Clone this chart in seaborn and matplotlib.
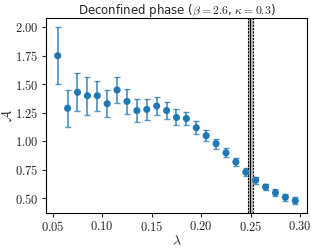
import numpy as np
import pandas as pd
import matplotlib
matplotlib.use("Agg")
import matplotlib.pyplot as plt
import seaborn as sns

# coupling values and measured observable
lam = [0.055, 0.065, 0.075, 0.085, 0.095, 0.105, 0.115, 0.125, 0.135, 0.145,
       0.155, 0.165, 0.175, 0.185, 0.195, 0.205, 0.215, 0.225, 0.235, 0.245,
       0.255, 0.265, 0.275, 0.285, 0.295]
a_hat = [1.75, 1.29, 1.43, 1.40, 1.40, 1.33, 1.45, 1.35, 1.27, 1.28,
         1.31, 1.27, 1.21, 1.20, 1.12, 1.05, 0.98, 0.90, 0.82, 0.73,
         0.66, 0.60, 0.55, 0.51, 0.48]
a_err = [0.25, 0.16, 0.165, 0.165, 0.13, 0.12, 0.115, 0.11, 0.10, 0.09,
         0.08, 0.075, 0.07, 0.06, 0.055, 0.05, 0.045, 0.04, 0.035, 0.035,
         0.03, 0.03, 0.03, 0.03, 0.03]

# critical coupling with its uncertainty band
lam_c = 0.2495
lam_c_err = 0.0024

df = pd.DataFrame({"lam": lam, "a_hat": a_hat, "a_err": a_err})

sns.set_style("white")
plt.rcParams["mathtext.fontset"] = "cm"
plt.rcParams["font.family"] = ["DejaVu Sans"]

fig, ax = plt.subplots(figsize=(3.16, 2.48), dpi=100)

ax.errorbar(df["lam"], df["a_hat"], yerr=df["a_err"], fmt="none",
            ecolor="#1f77b4", alpha=0.75, capsize=2, elinewidth=1.3, capthick=1.0)
sns.scatterplot(data=df, x="lam", y="a_hat", ax=ax, color="#1f77b4",
                s=26, edgecolor="none", zorder=3)

ax.axvspan(lam_c - lam_c_err, lam_c + lam_c_err, color="gray", alpha=0.5, lw=0)
ax.axvline(lam_c, color="black", lw=0.8)
ax.axvline(lam_c - lam_c_err, color="black", lw=0.8, ls="--", dashes=(2, 1))
ax.axvline(lam_c + lam_c_err, color="black", lw=0.8, ls="--", dashes=(2, 1))

ax.set_xticks([0.05, 0.10, 0.15, 0.20, 0.25, 0.30])
ax.set_xticklabels([f"${v:.2f}$" for v in [0.05, 0.10, 0.15, 0.20, 0.25, 0.30]])
ax.set_yticks([0.50, 0.75, 1.00, 1.25, 1.50, 1.75, 2.00])
ax.set_yticklabels([f"${v:.2f}$" for v in [0.50, 0.75, 1.00, 1.25, 1.50, 1.75, 2.00]])
ax.tick_params(labelsize=9, length=3, width=0.8, direction="out", pad=2,
               bottom=True, left=True)
for s in ax.spines.values():
    s.set_color("black")
    s.set_linewidth(0.8)

ax.set_xlabel(r"$\lambda$", fontsize=10, labelpad=0)
ax.set_ylabel(r"$\hat{\mathcal{A}}$", fontsize=10)
ax.yaxis.set_label_coords(-0.115, 0.5)
ax.set_title(r"Deconfined phase ($\beta=2.6$, $\kappa=0.3$)", fontsize=8.5, pad=3)

fig.subplots_adjust(left=0.145, right=0.972, top=0.926, bottom=0.141)
fig.savefig("out.png", dpi=100)
